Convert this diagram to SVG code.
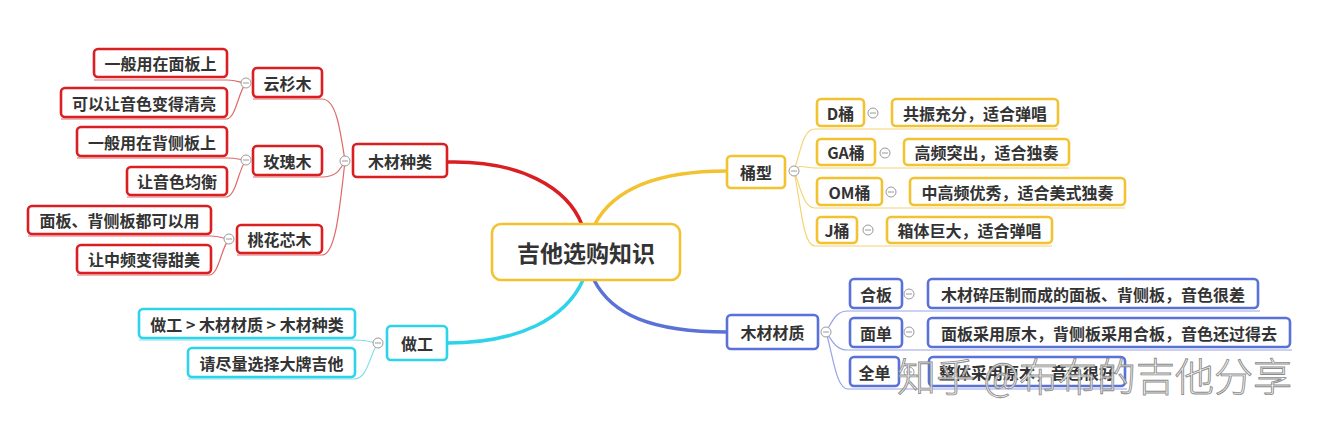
<svg xmlns="http://www.w3.org/2000/svg" width="1327" height="430" viewBox="0 0 1327 430">
<style>
  text { font-family: "Noto Sans CJK SC", "Noto Sans", sans-serif; font-weight: 700; fill: #333; font-size: 16px; text-anchor: middle; dominant-baseline: central; }
  .box { fill: #fff; stroke-width: 2.6; }
  .red { stroke: #d91f22; }
  .yel { stroke: #f2c230; }
  .cyn { stroke: #2dd3e8; }
  .blu { stroke: #5a72d8; }
  .main { fill: none; stroke-width: 3.5; stroke-linecap: round; }
  .sub { fill: none; stroke-width: 1.2; }
  .sred { stroke: #e06a6a; }
  .syel { stroke: #f4d477; }
  .scyn { stroke: #7fdfec; }
  .sblu { stroke: #95a4e6; }
  .tog circle { fill: #fff; stroke: #9a9a9a; stroke-width: 1; }
  .tog line { stroke: #9a9a9a; stroke-width: 1; }
  .wm { font-family: "Noto Sans CJK SC", sans-serif; font-weight: 300; font-size: 39px; fill: #f8f8f8; fill-opacity: 0.85; stroke: #8c8c8c; stroke-width: 0.9; text-anchor: start; dominant-baseline: alphabetic; }
</style>
<rect width="1327" height="430" fill="#fff"/>

<g id="connectors">
  <path class="main red" d="M447,162 C520,160 568,188 582,225"/>
  <path class="main yel" d="M595,224 C612,192 650,171 727,171"/>
  <path class="main cyn" d="M583,280 C566,318 520,343 447,343"/>
  <path class="main blu" d="M594,280 C612,315 652,332 727,332"/>
  <path class="sub sred" d="M345,161 C340,128 336,99 322,99 H253"/>
  <path class="sub sred" d="M345,161 C340,170 336,177 322,177 H253"/>
  <path class="sub sred" d="M345,161 C340,205 336,255 322,255 H237"/>
  <path class="sub sred" d="M246,83 C240,83 238,80 227,80 H94"/>
  <path class="sub sred" d="M246,83 C238,92 236,119 226,119 H61"/>
  <path class="sub sred" d="M246,160 C240,160 238,158 227,158 H77"/>
  <path class="sub sred" d="M246,160 C238,170 236,197 226,197 H127"/>
  <path class="sub sred" d="M229,239 C223,239 221,236 211,236 H28"/>
  <path class="sub sred" d="M229,239 C221,248 219,275 209,275 H77"/>
  <path class="sub scyn" d="M378,343 C372,343 370,340 355,340 H139"/>
  <path class="sub scyn" d="M378,343 C370,353 368,379 354,379 H188"/>
  <path class="sub syel" d="M794,171 C801,150 803,129 815,129 H1058"/>
  <path class="sub syel" d="M794,171 C800,163 803,168 815,168 H1069"/>
  <path class="sub syel" d="M794,171 C800,185 803,208 815,208 H1125"/>
  <path class="sub syel" d="M794,171 C801,205 803,246 815,246 H1052"/>
  <path class="sub sblu" d="M826,332 C833,320 836,311 848,311 H1260"/>
  <path class="sub sblu" d="M826,332 C833,342 836,350 848,350 H1292"/>
  <path class="sub sblu" d="M826,332 C833,355 836,389 848,389 H1127"/>
</g>

<g id="n-root">
  <rect class="box yel" x="492" y="224" width="188" height="56" rx="9" stroke-width="3"/>
  <text x="586" y="252" style="font-size:23px">吉他选购知识</text>
</g>

<g id="n-mczl">
  <rect class="box red" x="353" y="144" width="94" height="33" rx="4"/>
  <text x="400" y="160.5">木材种类</text>
</g>
<g id="n-ysm">
  <rect class="box red" x="253" y="68" width="69" height="29" rx="4"/>
  <text x="287.5" y="82.5">云杉木</text>
</g>
<g id="n-ysm-1">
  <rect class="box red" x="94" y="49" width="133" height="28" rx="4"/>
  <text x="160.5" y="63">一般用在面板上</text>
</g>
<g id="n-ysm-2">
  <rect class="box red" x="61" y="88" width="166" height="29" rx="4"/>
  <text x="144" y="102.5">可以让音色变得清亮</text>
</g>
<g id="n-mgm">
  <rect class="box red" x="253" y="146" width="69" height="29" rx="4"/>
  <text x="287.5" y="160.5">玫瑰木</text>
</g>
<g id="n-mgm-1">
  <rect class="box red" x="77" y="127" width="150" height="29" rx="4"/>
  <text x="152" y="141.5">一般用在背侧板上</text>
</g>
<g id="n-mgm-2">
  <rect class="box red" x="127" y="167" width="100" height="28" rx="4"/>
  <text x="177" y="181">让音色均衡</text>
</g>
<g id="n-thxm">
  <rect class="box red" x="237" y="225" width="85" height="28" rx="4"/>
  <text x="279.5" y="239">桃花芯木</text>
</g>
<g id="n-thxm-1">
  <rect class="box red" x="28" y="206" width="183" height="28" rx="4"/>
  <text x="119.5" y="220">面板、背侧板都可以用</text>
</g>
<g id="n-thxm-2">
  <rect class="box red" x="77" y="245" width="134" height="28" rx="4"/>
  <text x="144" y="259">让中频变得甜美</text>
</g>

<g id="n-zg">
  <rect class="box cyn" x="387" y="326" width="60" height="34" rx="4"/>
  <text x="417" y="343">做工</text>
</g>
<g id="n-zg-1">
  <rect class="box cyn" x="139" y="309" width="216" height="29" rx="4"/>
  <text x="247" y="323.5">做工 &gt; 木材材质 &gt; 木材种类</text>
</g>
<g id="n-zg-2">
  <rect class="box cyn" x="188" y="348" width="167" height="29" rx="4"/>
  <text x="271.5" y="362.5">请尽量选择大牌吉他</text>
</g>

<g id="n-tx">
  <rect class="box yel" x="727" y="156" width="58" height="32" rx="4"/>
  <text x="756" y="172">桶型</text>
</g>
<g id="n-d">
  <rect class="box yel" x="817" y="99" width="47" height="27" rx="4"/>
  <text x="840.5" y="112.5">D桶</text>
</g>
<g id="n-d-1">
  <rect class="box yel" x="892" y="99" width="166" height="27" rx="4"/>
  <text x="975" y="112.5">共振充分，适合弹唱</text>
</g>
<g id="n-ga">
  <rect class="box yel" x="817" y="139" width="58" height="26" rx="4"/>
  <text x="846" y="152">GA桶</text>
</g>
<g id="n-ga-1">
  <rect class="box yel" x="904" y="139" width="165" height="26" rx="4"/>
  <text x="986.5" y="152">高频突出，适合独奏</text>
</g>
<g id="n-om">
  <rect class="box yel" x="817" y="178" width="65" height="27" rx="4"/>
  <text x="849.5" y="191.5">OM桶</text>
</g>
<g id="n-om-1">
  <rect class="box yel" x="910" y="178" width="215" height="27" rx="4"/>
  <text x="1017.5" y="191.5">中高频优秀，适合美式独奏</text>
</g>
<g id="n-j">
  <rect class="box yel" x="817" y="217" width="40" height="26" rx="4"/>
  <text x="837" y="230">J桶</text>
</g>
<g id="n-j-1">
  <rect class="box yel" x="887" y="217" width="165" height="26" rx="4"/>
  <text x="969.5" y="230">箱体巨大，适合弹唱</text>
</g>

<g id="n-mccz">
  <rect class="box blu" x="727" y="315" width="91" height="34" rx="4"/>
  <text x="772.5" y="332">木材材质</text>
</g>
<g id="n-hb">
  <rect class="box blu" x="850" y="279" width="52" height="29" rx="4"/>
  <text x="876" y="293.5">合板</text>
</g>
<g id="n-hb-1">
  <rect class="box blu" x="928" y="279" width="330" height="29" rx="4"/>
  <text x="1093" y="293.5">木材碎压制而成的面板、背侧板，音色很差</text>
</g>
<g id="n-md">
  <rect class="box blu" x="850" y="318" width="52" height="29" rx="4"/>
  <text x="876" y="332.5">面单</text>
</g>
<g id="n-md-1">
  <rect class="box blu" x="928" y="318" width="362" height="29" rx="4"/>
  <text x="1109" y="332.5">面板采用原木，背侧板采用合板，音色还过得去</text>
</g>
<g id="n-qd">
  <rect class="box blu" x="850" y="357" width="49" height="29" rx="4"/>
  <text x="874.5" y="371.5">全单</text>
</g>
<g id="n-qd-1">
  <rect class="box blu" x="929" y="357" width="196" height="29" rx="4"/>
  <text x="1027" y="371.5">整体采用原木，音色很好</text>
</g>

<g id="toggles" class="tog">
  <g><circle cx="345" cy="161" r="5"/><line x1="342" y1="161" x2="348" y2="161"/></g>
  <g><circle cx="246" cy="83" r="5"/><line x1="243" y1="83" x2="249" y2="83"/></g>
  <g><circle cx="246" cy="160" r="5"/><line x1="243" y1="160" x2="249" y2="160"/></g>
  <g><circle cx="229" cy="239" r="5"/><line x1="226" y1="239" x2="232" y2="239"/></g>
  <g><circle cx="378" cy="343" r="5"/><line x1="375" y1="343" x2="381" y2="343"/></g>
  <g><circle cx="794" cy="171" r="5"/><line x1="791" y1="171" x2="797" y2="171"/></g>
  <g><circle cx="873" cy="113" r="5"/><line x1="870" y1="113" x2="876" y2="113"/></g>
  <g><circle cx="885" cy="153" r="5"/><line x1="882" y1="153" x2="888" y2="153"/></g>
  <g><circle cx="891" cy="192" r="5"/><line x1="888" y1="192" x2="894" y2="192"/></g>
  <g><circle cx="868" cy="230" r="5"/><line x1="865" y1="230" x2="871" y2="230"/></g>
  <g><circle cx="826" cy="332" r="5"/><line x1="823" y1="332" x2="829" y2="332"/></g>
  <g><circle cx="909" cy="294" r="5"/><line x1="906" y1="294" x2="912" y2="294"/></g>
  <g><circle cx="909" cy="332" r="5"/><line x1="906" y1="332" x2="912" y2="332"/></g>
  <g><circle cx="909" cy="372" r="5"/><line x1="906" y1="372" x2="912" y2="372"/></g>
</g>

<text class="wm" x="897" y="391">知乎 @布布的吉他分享</text>
</svg>
